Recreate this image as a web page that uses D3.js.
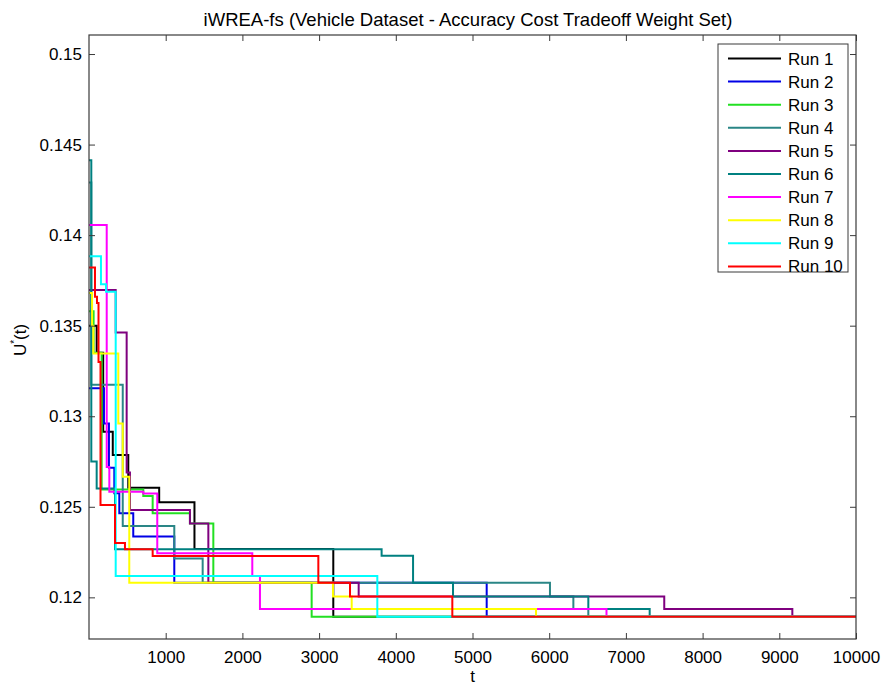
<!DOCTYPE html>
<html>
<head>
<meta charset="utf-8">
<script src="https://cdn.jsdelivr.net/npm/d3@7"></script>
<style>
  body { margin: 0; background: #fff; }
  svg { display: block; font-family: "Liberation Sans", Arial, sans-serif; }
</style>
</head>
<body>
<script>
// data: each run is a list of [t, U*(t)] steps (value holds from t until next step)
var run1 = [[0, 0.1350], [100, 0.1335], [185, 0.12914], [310, 0.12786], [512, 0.12605], [915, 0.12525], [1375, 0.12267], [3185, 0.11893]];
var run2 = [[0, 0.13155], [195, 0.1296], [260, 0.12715], [330, 0.12575], [395, 0.12464], [577, 0.12336], [1112, 0.1208], [5185, 0.11893]];
var run3 = [[0, 0.1358], [60, 0.1335], [165, 0.12596], [708, 0.1256], [830, 0.12465], [1316, 0.12408], [1621, 0.1208], [2903, 0.11893]];
var run4 = [[0, 0.1429], [30, 0.13174], [440, 0.12394], [1112, 0.12215], [1482, 0.1208], [6010, 0.12005], [6315, 0.11935], [6510, 0.11893]];
var run5 = [[0, 0.13697], [348, 0.13463], [491, 0.1269], [534, 0.12482], [1316, 0.12408], [1556, 0.1208], [3516, 0.12005], [7500, 0.11935], [9170, 0.11893]];
var run6 = [[0, 0.14414], [30, 0.1275], [100, 0.12601], [339, 0.12265], [3815, 0.1223], [4225, 0.1208], [4746, 0.12005], [6510, 0.11935], [7310, 0.11893]];
var run7 = [[0, 0.14056], [231, 0.1272], [265, 0.12583], [708, 0.12574], [890, 0.12243], [2129, 0.12118], [2229, 0.11935], [6747, 0.11893]];
var run8 = [[0, 0.1368], [40, 0.1350], [56, 0.13347], [382, 0.1296], [440, 0.12666], [525, 0.1208], [3181, 0.12005], [3425, 0.11935], [5828, 0.11893]];
var run9 = [[0, 0.13883], [156, 0.13729], [222, 0.13688], [348, 0.12118], [3759, 0.11893]];
var run10 = [[0, 0.13821], [78, 0.1366], [104, 0.13625], [124, 0.1330], [150, 0.1251], [339, 0.1230], [469, 0.12265], [830, 0.12228], [2990, 0.1208], [3403, 0.12005], [4737, 0.11893]];

var runNames = ['Run 1', 'Run 2', 'Run 3', 'Run 4', 'Run 5', 'Run 6', 'Run 7', 'Run 8', 'Run 9', 'Run 10'];
var runColors = ['#000000', '#0000e6', '#22e022', '#2a8686', '#7f007f', '#008080', '#ff00ff', '#ffff00', '#00ffff', '#ff0000'];
var xTicks = [1000, 2000, 3000, 4000, 5000, 6000, 7000, 8000, 9000, 10000];
var yTicks = [0.12, 0.125, 0.13, 0.135, 0.14, 0.145, 0.15];
var tMax = 10000;

var runs = [run1, run2, run3, run4, run5, run6, run7, run8, run9, run10];

var W = 884, H = 689;
var m = {left: 89, right: 28, top: 35, bottom: 50};
var svg = d3.select(document.body).append('svg').attr('width', W).attr('height', H);

var x = d3.scaleLinear().domain([0, tMax]).range([m.left, W - m.right]);
var y = d3.scaleLinear().domain([0.1177, 0.15105]).range([H - m.bottom, m.top]);

var fmt = function(d){ return String(+d.toFixed(3)); };

// lines
var line = d3.line()
    .x(function(d){ return x(d[0]); })
    .y(function(d){ return y(d[1]); })
    .curve(d3.curveStepAfter);

var plot = svg.append('g');
runs.forEach(function(r, i){
    var pts = r.concat([[tMax, r[r.length - 1][1]]]);
    plot.append('path')
        .datum(pts)
        .attr('d', line)
        .attr('fill', 'none')
        .attr('stroke', runColors[i])
        .attr('stroke-width', 2);
});

// axes box with inward ticks on all sides
var axColor = '#3a3a3a';
var tl = 6;
function styleAxis(g){
    g.select('.domain').remove();
    g.selectAll('.tick line').attr('stroke', axColor);
    g.selectAll('.tick text').attr('fill', '#000').style('font-size', '17px').style('font-family', 'Liberation Sans, Arial, sans-serif');
}
svg.append('g').attr('transform', 'translate(0,' + (H - m.bottom) + ')')
    .call(d3.axisBottom(x).tickValues(xTicks).tickSize(-tl).tickPadding(12).tickFormat(d3.format('d')))
    .call(styleAxis);
svg.append('g').attr('transform', 'translate(0,' + m.top + ')')
    .call(d3.axisTop(x).tickValues(xTicks).tickSize(-tl).tickFormat(''))
    .call(styleAxis);
svg.append('g').attr('transform', 'translate(' + m.left + ',0)')
    .call(d3.axisLeft(y).tickValues(yTicks).tickSize(-tl).tickPadding(7).tickFormat(fmt))
    .call(styleAxis);
svg.append('g').attr('transform', 'translate(' + (W - m.right) + ',0)')
    .call(d3.axisRight(y).tickValues(yTicks).tickSize(-tl).tickFormat(''))
    .call(styleAxis);

svg.append('rect')
    .attr('x', m.left).attr('y', m.top)
    .attr('width', W - m.right - m.left).attr('height', H - m.bottom - m.top)
    .attr('fill', 'none').attr('stroke', axColor).attr('stroke-width', 1.2);

// title and labels
svg.append('text')
    .attr('x', 468).attr('y', 26)
    .attr('text-anchor', 'middle').style('font-size', '18.5px')
    .text('iWREA-fs (Vehicle Dataset - Accuracy Cost Tradeoff Weight Set)');

svg.append('text')
    .attr('x', (m.left + W - m.right) / 2).attr('y', 682)
    .attr('text-anchor', 'middle').style('font-size', '17px')
    .text('t');

var yl = svg.append('text')
    .attr('transform', 'translate(26,340) rotate(-90)')
    .attr('text-anchor', 'middle').style('font-size', '17px');
yl.append('tspan').text('U');
yl.append('tspan').attr('dy', -8).style('font-size', '10px').text('*');
yl.append('tspan').attr('dy', 8).text('(t)');

// legend
var lg = svg.append('g');
var lgX = 718, lgY = 44, lgW = 130, rowH = 23.1;
lg.append('rect')
    .attr('x', lgX).attr('y', lgY)
    .attr('width', lgW).attr('height', 228)
    .attr('fill', '#fff').attr('stroke', axColor).attr('stroke-width', 1);
runNames.forEach(function(name, i){
    var cy = lgY + 14.5 + i * rowH;
    lg.append('line')
        .attr('x1', lgX + 10).attr('x2', lgX + 63)
        .attr('y1', cy).attr('y2', cy)
        .attr('stroke', runColors[i]).attr('stroke-width', 2);
    lg.append('text')
        .attr('x', lgX + 70).attr('y', cy + 6)
        .style('font-size', '17px')
        .text(name);
});
</script>
</body>
</html>
